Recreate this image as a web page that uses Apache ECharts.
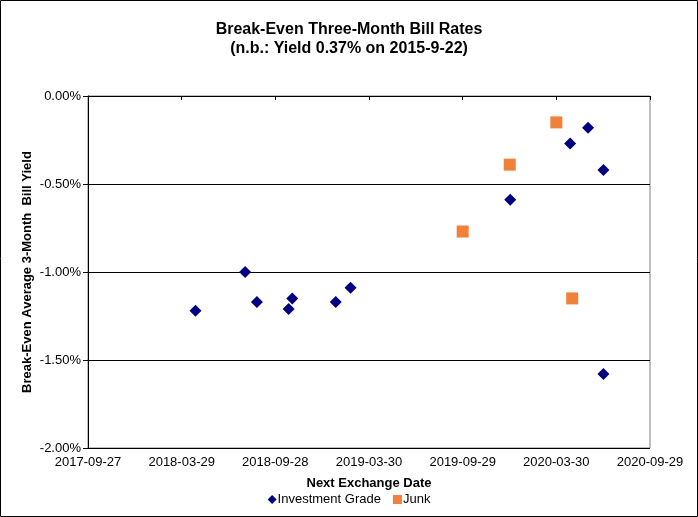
<!DOCTYPE html>
<html>
<head>
<meta charset="utf-8">
<script src="https://cdn.jsdelivr.net/npm/echarts@6/dist/echarts.min.js"></script>
<style>
html,body{margin:0;padding:0;background:#fff;}
#c{width:698px;height:517px;}
</style>
</head>
<body>
<div id="c"></div>
<script>
var startDate = '2017-09-27';
var tickLabels = ['2017-09-27','2018-03-29','2018-09-28','2019-03-30','2019-09-29','2020-03-30','2020-09-29'];
var igDates = ['2018-04-25','2018-07-31','2018-08-23','2018-10-24','2018-10-31','2019-01-24','2019-02-22','2019-12-31','2020-04-26','2020-05-31','2020-06-30','2020-06-30'];
var igYields = [-1.22,-1.00,-1.17,-1.21,-1.15,-1.17,-1.09,-0.59,-0.27,-0.18,-0.42,-1.58];
var junkDates = ['2019-09-29','2019-12-30','2020-03-30','2020-04-30'];
var junkYields = [-0.77,-0.39,-0.15,-1.15];

function dayOffset(s){
  var p = s.split('-').map(Number), q = startDate.split('-').map(Number);
  return Math.round((Date.UTC(p[0],p[1]-1,p[2]) - Date.UTC(q[0],q[1]-1,q[2]))/86400000);
}
var tickDays = tickLabels.map(dayOffset);
var tickMap = {};
tickDays.forEach(function(d,i){ tickMap[d] = tickLabels[i]; });
function pairs(ds, ys){ return ds.map(function(d,i){ return [dayOffset(d), ys[i]]; }); }

var font = 'Liberation Sans, Arial, sans-serif';
var xMin = tickDays[0], xMax = tickDays[tickDays.length-1], xInt = tickDays[1]-tickDays[0];

var chart = echarts.init(document.getElementById('c'), null, {renderer:'canvas'});
chart.setOption({
  backgroundColor:'#fff',
  animation:false,
  graphic:[{type:'rect', shape:{x:0.5,y:0.5,width:697,height:516}, style:{fill:'none',stroke:'#000',lineWidth:1}, z:100}],
  title:{
    text:'Break-Even Three-Month Bill Rates\n(n.b.: Yield 0.37% on 2015-9-22)',
    left:'center', top:15,
    textStyle:{fontFamily:font,fontSize:16,fontWeight:'bold',color:'#000',lineHeight:19}
  },
  legend:{
    bottom:6, left:'center',
    itemWidth:9, itemHeight:9, itemGap:12,
    textStyle:{fontFamily:font,fontSize:13,color:'#000',padding:[0,0,0,-4]},
    data:[{name:'Investment Grade',icon:'diamond'},{name:'Junk',icon:'rect'}]
  },
  grid:{left:88,right:48,top:96,bottom:69,show:true,borderColor:'#808080',borderWidth:1,backgroundColor:'#fff'},
  xAxis:[{
    type:'value', min:xMin, max:xMax, interval:xInt, position:'bottom',
    name:'Next Exchange Date', nameLocation:'middle', nameGap:29,
    nameTextStyle:{fontFamily:font,fontSize:13,fontWeight:'bold',color:'#000'},
    axisLine:{show:true,lineStyle:{color:'#000',width:1}},
    axisTick:{show:false},
    splitLine:{show:false},
    axisLabel:{fontFamily:font,fontSize:13,color:'#000',margin:8,formatter:function(v){return tickMap[v]||'';}}
  },{
    type:'value', min:xMin, max:xMax, interval:xInt, position:'top',
    axisLine:{show:true,lineStyle:{color:'#000',width:1}},
    axisTick:{show:true,inside:true,length:4,lineStyle:{color:'#000'}},
    axisLabel:{show:false},
    splitLine:{show:false}
  }],
  yAxis:{
    type:'value', min:-2, max:0, interval:0.5,
    name:'Break-Even Average 3-Month  Bill Yield', nameLocation:'middle', nameGap:54,
    nameMoveOverlap:false,
    nameTextStyle:{fontFamily:font,fontSize:13,fontWeight:'bold',color:'#000'},
    axisLine:{show:true,lineStyle:{color:'#000',width:1}},
    axisTick:{show:true,length:5,lineStyle:{color:'#000'}},
    splitLine:{show:true,lineStyle:{color:'#000',width:1}},
    axisLabel:{fontFamily:font,fontSize:13,color:'#000',margin:7,formatter:function(v){return v.toFixed(2)+'%';}}
  },
  series:[{
    name:'Investment Grade', type:'scatter', symbol:'diamond', symbolSize:12,
    itemStyle:{color:'#000080',opacity:1}, data:pairs(igDates, igYields)
  },{
    name:'Junk', type:'scatter', symbol:'rect', symbolSize:12,
    itemStyle:{color:'#F0803A',opacity:1}, data:pairs(junkDates, junkYields)
  }]
});
</script>
</body>
</html>
